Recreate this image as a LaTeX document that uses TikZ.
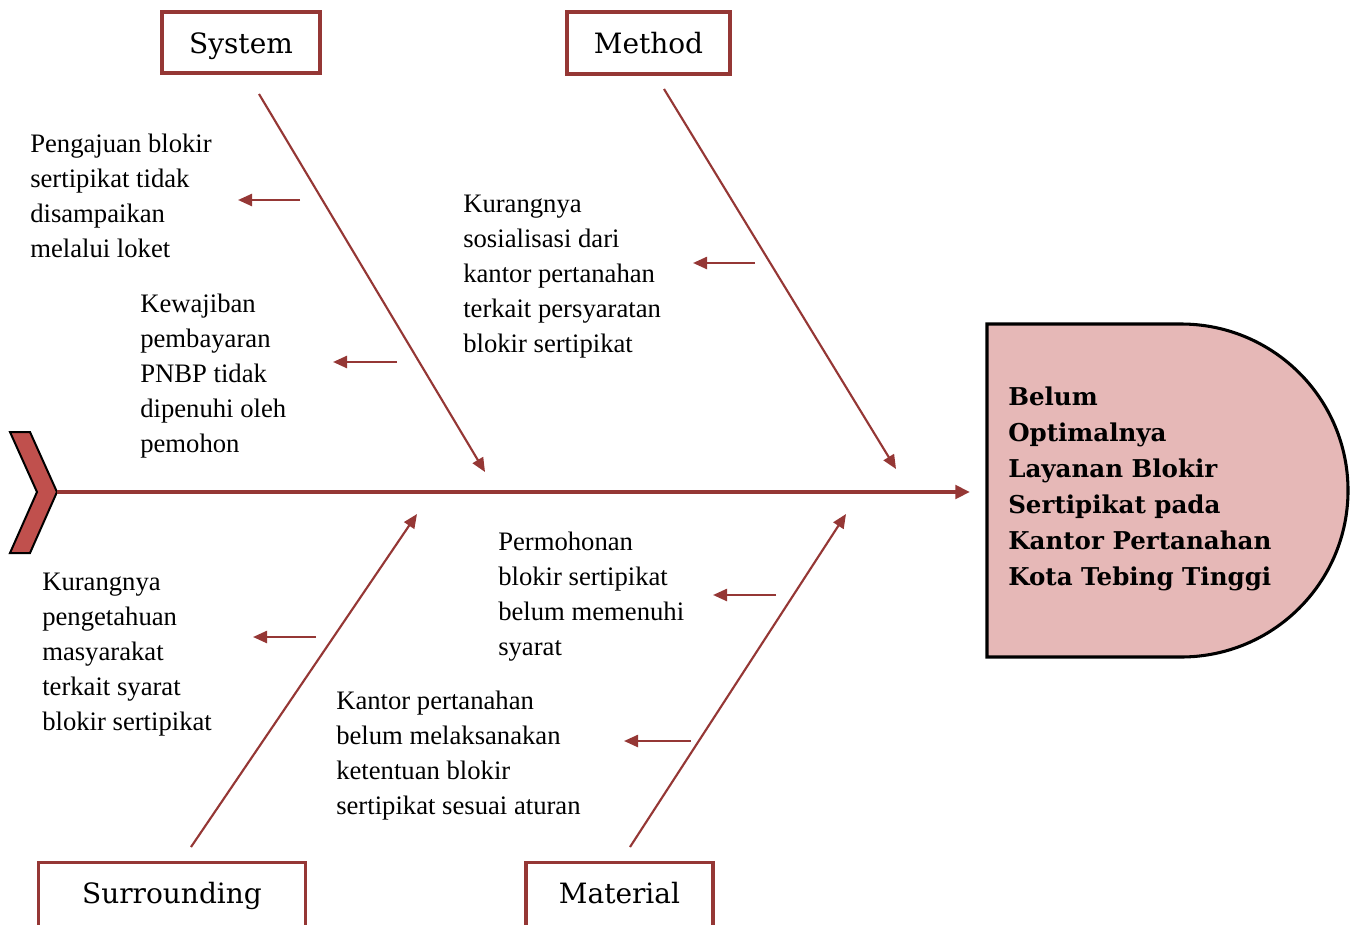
\documentclass[tikz,border=0pt]{standalone}
\usepackage{fontspec}
\setmainfont{Liberation Serif}
\newfontfamily\boxfont{DejaVu Serif}
\usetikzlibrary{arrows.meta}
\definecolor{bone}{HTML}{953735}
\definecolor{tailfill}{HTML}{C0504D}
\definecolor{headfill}{HTML}{E6B8B7}
\begin{document}
\begin{tikzpicture}[x=0.75pt,y=-0.75pt,
  catbox/.style={draw=bone, line width=2.6pt, fill=white, inner sep=0pt,
    text height=20pt, text depth=4pt,
    font=\boxfont\fontsize{21}{24}\selectfont},
  cause/.style={anchor=base west, align=left, inner sep=0pt,
    font=\fontsize{20}{26.25}\selectfont},
  bonearrow/.style={draw=bone, line width=1.6pt, -{Triangle[length=10.5pt,width=9pt]}},
  smallarrow/.style={draw=bone, line width=1.8pt, -{Triangle[length=10.5pt,width=9pt]}},
  spinearrow/.style={draw=bone, line width=3pt, -{Triangle[length=11pt,width=10pt]}},
]
\useasboundingbox (0,0) rectangle (1355,924);

% tail
\draw[fill=tailfill, line width=1.5pt, line join=miter]
  (10,432) -- (30,432) -- (57,492) -- (30,553) -- (10,553) -- (37,492) -- cycle;
\coordinate (tailtip) at (57,492);
\coordinate (spineend) at (970,492);

% head
\draw[fill=headfill, line width=2.3pt] (987,324) -- (1181,324)
  arc[start angle=-90, end angle=90, x radius=167, y radius=166.5]
  -- (987,657) -- cycle;
\node[anchor=base west, align=left, inner sep=0pt,
  font=\boxfont\bfseries\fontsize{18.4}{27}\selectfont] (head) at (1008,585)
  {Belum\\Optimalnya\\Layanan Blokir\\Sertipikat pada\\Kantor Pertanahan\\Kota Tebing Tinggi};

% spine
\draw[spinearrow] (tailtip) -- (spineend);

% category boxes
\node[catbox, minimum width=118.5pt, minimum height=45.75pt] (sys) at (241,42.5) {System};
\node[catbox, minimum width=122.25pt, minimum height=46.5pt] (met) at (648.5,43) {Method};
\node[catbox, text height=15pt, text depth=4.5pt, minimum width=200.25pt, minimum height=50pt] (sur) at (172,896) {Surrounding};
\node[catbox, text height=15pt, text depth=4.5pt, minimum width=140.25pt, minimum height=50pt] (mat) at (619.5,896) {Material};

% bones
\coordinate (sysA) at (259,94);   \coordinate (sysB) at (485,472);
\coordinate (metA) at (664,89);   \coordinate (metB) at (896,469);
\coordinate (surA) at (191,847);  \coordinate (surB) at (417,514);
\coordinate (matA) at (630,847);  \coordinate (matB) at (846,514);
\draw[bonearrow] (sysA) -- (sysB);
\draw[bonearrow] (metA) -- (metB);
\draw[bonearrow] (surA) -- (surB);
\draw[bonearrow] (matA) -- (matB);

% causes (anchor = baseline of the last line)
\node[cause] (c1) at (30,257) {Pengajuan blokir\\sertipikat tidak\\disampaikan\\melalui loket};
\node[cause] (c2) at (140,452) {Kewajiban\\pembayaran\\PNBP tidak\\dipenuhi oleh\\pemohon};
\node[cause] (c3) at (463,352) {Kurangnya\\sosialisasi dari\\kantor pertanahan\\terkait persyaratan\\blokir sertipikat};
\node[cause] (c4) at (498,655) {Permohonan\\blokir sertipikat\\belum memenuhi\\syarat};
\node[cause] (c5) at (42,730) {Kurangnya\\pengetahuan\\masyarakat\\terkait syarat\\blokir sertipikat};
\node[cause] (c6) at (336,814) {Kantor pertanahan\\belum melaksanakan\\ketentuan blokir\\sertipikat sesuai aturan};

% small arrows
\coordinate (a1s) at (300,200); \coordinate (a1e) at (238,200);
\coordinate (a2s) at (397,362); \coordinate (a2e) at (333,362);
\coordinate (a3s) at (755,263); \coordinate (a3e) at (693,263);
\coordinate (a4s) at (776,595); \coordinate (a4e) at (713,595);
\coordinate (a5s) at (316,637); \coordinate (a5e) at (253,637);
\coordinate (a6s) at (691,741); \coordinate (a6e) at (624,741);
\foreach \i in {1,...,6} { \draw[smallarrow] (a\i s) -- (a\i e); }
\end{tikzpicture}
\end{document}
